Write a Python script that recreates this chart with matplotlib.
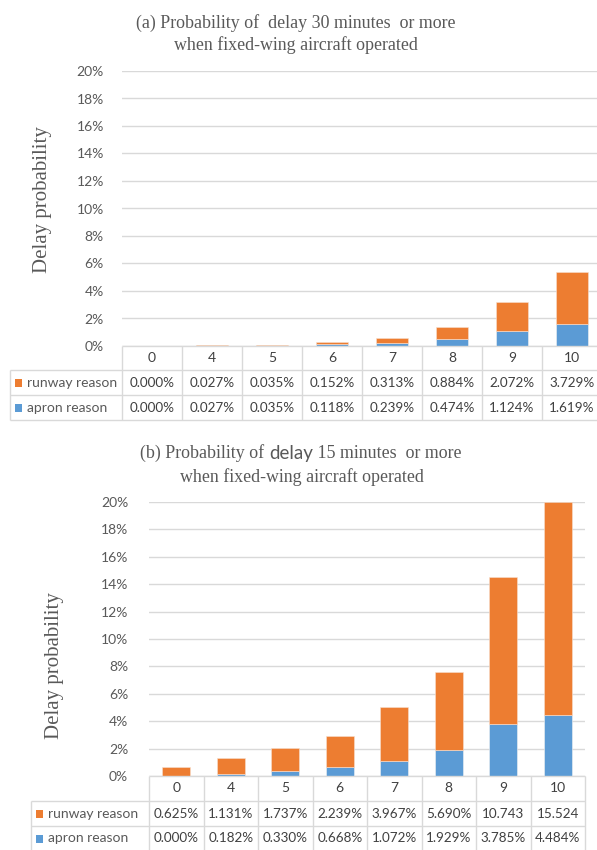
import matplotlib
matplotlib.use("Agg")
import matplotlib.pyplot as plt
from matplotlib.patches import Rectangle
from matplotlib.ticker import FuncFormatter, MultipleLocator

W, H, DPI = 597, 850, 100

# ---- data (percent) ----
categories = ["0", "4", "5", "6", "7", "8", "9", "10"]
series_names = ["runway reason", "apron reason"]

runway_30 = [0.000, 0.027, 0.035, 0.152, 0.313, 0.884, 2.072, 3.729]
apron_30 = [0.000, 0.027, 0.035, 0.118, 0.239, 0.474, 1.124, 1.619]

runway_15 = [0.625, 1.131, 1.737, 2.239, 3.967, 5.690, 10.743, 15.524]
apron_15 = [0.000, 0.182, 0.330, 0.668, 1.072, 1.929, 3.785, 4.484]

y_max = 20
y_step = 2

ORANGE = "#ED7D31"
BLUE = "#5B9BD5"
GRID = "#D9D9D9"
TXT = "#595959"
CELL = "#404040"
SANS = ["Lato", "DejaVu Sans"]
SERIF = ["Liberation Serif", "DejaVu Serif"]

fig = plt.figure(figsize=(W / DPI, H / DPI), dpi=DPI)
fig.patch.set_facecolor("white")

# full-figure overlay in pixel coordinates for titles and data tables
ov = fig.add_axes([0, 0, 1, 1], zorder=5)
ov.set_xlim(0, W)
ov.set_ylim(H, 0)
ov.axis("off")
ov.patch.set_visible(False)


def cell_text(v):
    s = f"{v:.3f}"
    # wide values overflow the cell, only the digits remain visible
    return s + "%" if v < 10 else s


def panel(left, right, top, bottom, label_left, row_edges, runway, apron,
          ylabel_xy, tick_pad):
    ax = fig.add_axes([left / W, 1 - bottom / H, (right - left) / W,
                       (bottom - top) / H])
    x = range(len(categories))
    ax.bar(x, apron, width=0.52, color=BLUE, edgecolor="#F2F2F2",
           linewidth=0.4, zorder=3)
    ax.bar(x, runway, bottom=apron, width=0.52, color=ORANGE,
           edgecolor="#F8E0D0", linewidth=0.4, zorder=3)
    ax.set_xlim(-0.5, len(categories) - 0.5)
    ax.set_ylim(0, y_max)
    ax.yaxis.set_major_locator(MultipleLocator(y_step))
    ax.yaxis.set_major_formatter(FuncFormatter(lambda v, p: f"{v:.0f}%"))
    ax.grid(axis="y", color=GRID, linewidth=1.0, zorder=0)
    ax.set_xticks([])
    for s in ax.spines.values():
        s.set_visible(False)
    ax.tick_params(axis="y", length=0, pad=tick_pad, labelsize=10,
                   labelcolor=TXT)
    for lab in ax.get_yticklabels():
        lab.set_fontfamily(SANS)
    ax.set_ylabel("Delay probability", fontfamily=SERIF, fontsize=15,
                  color=TXT)
    lx, ly = ylabel_xy
    ax.yaxis.set_label_coords((lx - left) / (right - left),
                              (bottom - ly) / (bottom - top))
    ax.patch.set_visible(False)

    # data table beneath the bars
    n = len(categories)
    cw = (right - left) / n
    r0, r1, r2, r3 = row_edges
    lk = dict(color=GRID, linewidth=1.0, solid_capstyle="butt")
    ov.plot([left, right], [r0, r0], **lk)
    for y in (r1, r2, r3):
        ov.plot([label_left, right], [y, y], **lk)
    ov.plot([label_left, label_left], [r1, r3], **lk)
    for i in range(n + 1):
        xx = left + i * cw
        ov.plot([xx, xx], [r0, r3], **lk)
    for i, c in enumerate(categories):
        ov.text(left + (i + 0.5) * cw, (r0 + r1) / 2, c, ha="center",
                va="center", fontsize=10, color=CELL, fontfamily=SANS)
    rows = [(series_names[0], ORANGE, runway, (r1 + r2) / 2),
            (series_names[1], BLUE, apron, (r2 + r3) / 2)]
    for name, col, vals, yc in rows:
        ov.add_patch(Rectangle((label_left + 5, yc - 4), 7, 8,
                               facecolor=col, edgecolor="none"))
        ov.text(label_left + 17, yc, name, ha="left", va="center",
                fontsize=10, color=TXT, fontfamily=SANS)
        for i, v in enumerate(vals):
            ov.text(left + (i + 0.5) * cw, yc, cell_text(v), ha="center",
                    va="center", fontsize=9.7, color=CELL, fontfamily=SANS)
    return ax


panel(122, 602, 71, 346, 10, (346, 370, 395, 420), runway_30, apron_30,
      (52, 200), 13)
panel(149, 585, 502, 776, 31, (776, 801, 826, 851), runway_15, apron_15,
      (64, 666), 15)

# ---- titles ----
renderer = fig.canvas.get_renderer()


def mixed_line(parts, xc, yc):
    arts = []
    for s, fam, size in parts:
        t = ov.text(0, yc, s, ha="left", va="center", fontsize=size,
                    fontfamily=fam, color=TXT)
        arts.append(t)
    widths = [a.get_window_extent(renderer).width for a in arts]
    x = xc - sum(widths) / 2
    for a, w in zip(arts, widths):
        a.set_x(x)
        x += w


TS = 12.9
mixed_line([("(a) Probability of  delay 30 minutes  or more", SERIF, TS)],
           296, 23)
mixed_line([("when fixed-wing aircraft operated", SERIF, TS)], 296, 45)
mixed_line([("(b) Probability of ", SERIF, TS), ("delay", SANS, 13.5),
            (" 15 minutes  or more", SERIF, TS)], 301, 453)
mixed_line([("when fixed-wing aircraft operated", SERIF, TS)], 302, 477)

fig.savefig("out.png", dpi=DPI)
